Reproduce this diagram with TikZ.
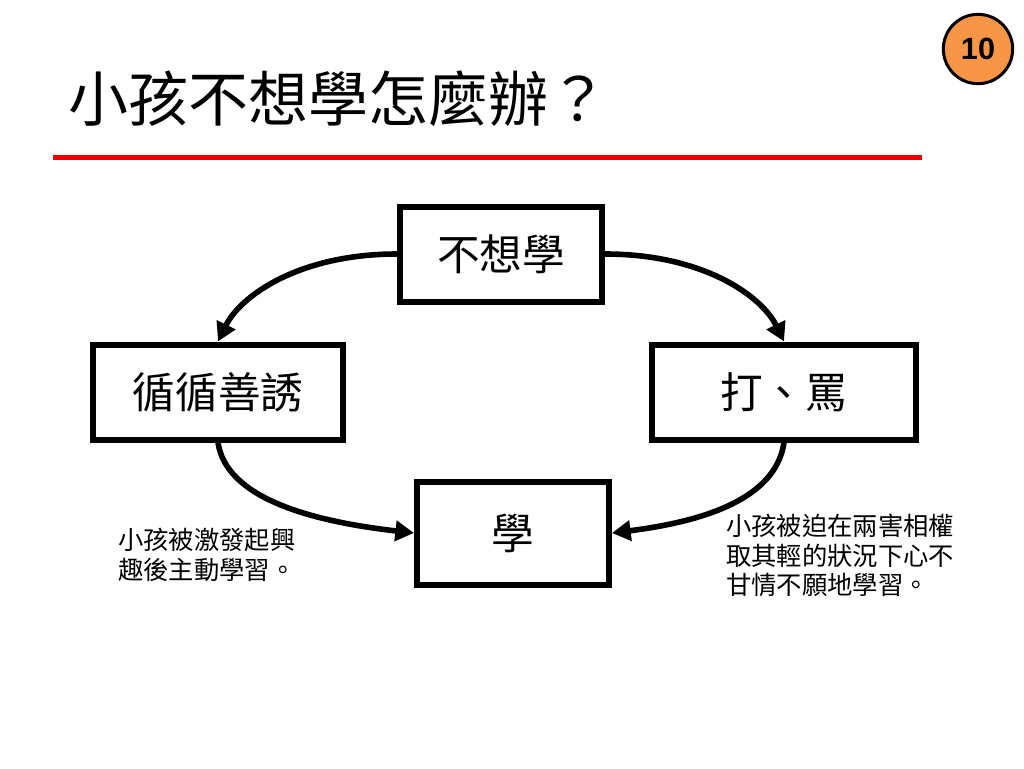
\documentclass[tikz,border=0pt]{standalone}
\usepackage{fontspec}
\newfontfamily\cjk{Noto Sans CJK TC}
\newfontfamily\numfont{Liberation Sans}
\usetikzlibrary{arrows.meta}
\tikzset{>={Triangle[length=14pt,width=15pt]}}
\usepackage{xcolor}
\colorlet{myred}{red!92!black}
\definecolor{myorange}{RGB}{247,150,70}
\tikzstyle{box}=[draw=black,line width=4.5pt,inner sep=0,font=\cjk\fontsize{32}{38}\selectfont]
\tikzstyle{note}=[anchor=north west,align=left,inner sep=0,font=\cjk\fontsize{19}{22}\selectfont]
\tikzstyle{connect}=[line width=4.2pt,->]

\begin{document}
\begin{tikzpicture}[x=0.75pt,y=-0.75pt]
    \useasboundingbox (0,0) rectangle (1024,768);

    % TITLE
    \node[anchor=west,inner sep=0,font=\cjk\fontsize{45}{54}\selectfont] (T) at (68,99) {小孩不想學怎麼辦？};
    \draw[myred,line width=3.75pt] (53,157) -- (922,157);
    \node[circle,draw,line width=2.25pt,fill=myorange,minimum size=52pt,inner sep=0,
          font=\numfont\bfseries\fontsize{23}{23}\selectfont] (P) at (978,49) {10};

    % DRAW NODES
    \node[box,minimum width=151.5pt,minimum height=71.25pt] (NT) at (501,254) {不想學};
    \node[box,minimum width=187.5pt,minimum height=71.25pt] (NL) at (218,392) {循循善誘};
    \node[box,minimum width=198pt,minimum height=71.25pt] (NR) at (784,392) {打、罵};
    \node[box,minimum width=144pt,minimum height=77.25pt] (NB) at (513,533) {學};

    % DRAW EDGES
    \draw[connect] (NT.west) .. controls +(-99,0) and +(22,-45) .. (NL.north);
    \draw[connect] (NT.east) .. controls +(99,0) and +(-22,-45) .. (NR.north);
    \draw[connect] (NL.south) .. controls +(8,55) and +(-105,-12) .. (NB.west);
    \draw[connect] (NR.south) .. controls +(-8,55) and +(95,-12) .. (NB.east);

    % NOTES
    \node[note] (AL) at (118,528) {小孩被激發起興\\趣後主動學習。};
    \node[note] (AR) at (726,514) {小孩被迫在兩害相權\\取其輕的狀況下心不\\甘情不願地學習。};
\end{tikzpicture}
\end{document}
